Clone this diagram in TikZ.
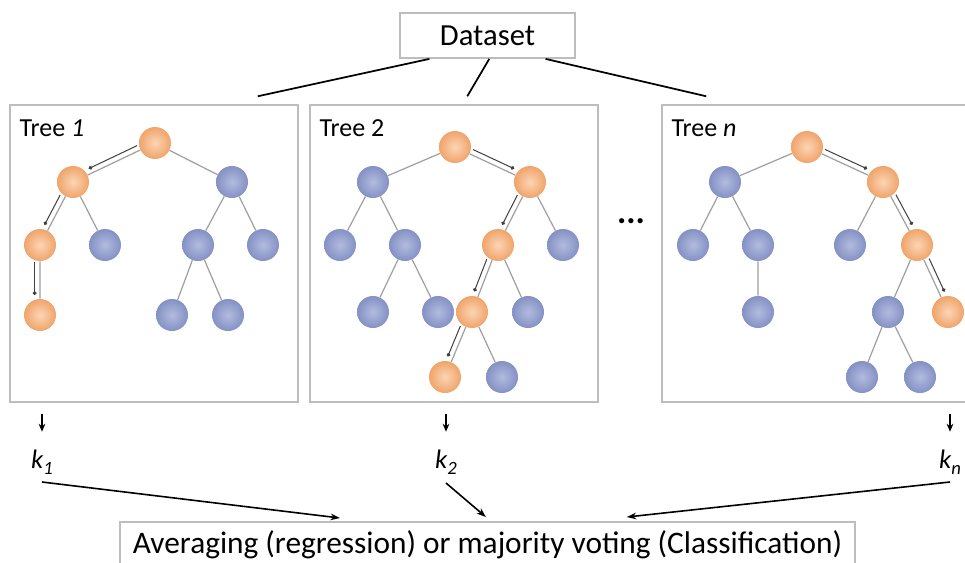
\documentclass[tikz,border=0pt]{standalone}
\usepackage{fontspec}
\setmainfont{Carlito}
\usepackage{tikz}
\usetikzlibrary{arrows.meta, calc, positioning}
\definecolor{nodeorange}{HTML}{F0A46A}
\definecolor{nodeorangelt}{HTML}{FBD5B5}
\definecolor{nodeblue}{HTML}{8391C4}
\definecolor{nodebluelt}{HTML}{B3BBDE}
\definecolor{boxgray}{HTML}{BDBDBD}
\def\kout#1{\textit{k}\raisebox{-5pt}{\fontsize{14}{14}\selectfont\textit{#1}}}
\newcommand{\walk}[4]{\draw[walkline] ($(#1)!4pt!#3:(#2)$) -- ($(#2)!4pt!#4:(#1)$);}
\tikzset{
    leafon/.style={circle, minimum size=24pt, inner sep=0pt, shading=radial, inner color=nodeorangelt, outer color=nodeorange},
    leafoff/.style={circle, minimum size=24pt, inner sep=0pt, shading=radial, inner color=nodebluelt, outer color=nodeblue},
    branch/.style={draw=gray!75, line width=0.9pt},
    walkline/.style={draw=black!75, line width=0.75pt, shorten <=13pt, shorten >=15pt, -{Circle[length=2.8pt]}},
    treebox/.style={draw=boxgray, line width=1.1pt, inner sep=0pt, minimum height=222.75pt},
    treetitle/.style={anchor=base west, font=\fontsize{19.5}{20}\selectfont, inner sep=0pt},
    klabel/.style={anchor=base, font=\fontsize{20}{20}\selectfont, inner sep=0pt},
    feed/.style={line width=1.3pt},
    drop/.style={line width=1pt, -{Stealth[length=6pt, width=5pt]}},
    vote/.style={line width=1.2pt, -{Stealth[length=7pt, width=5pt]}},
}

\begin{document}
\begin{tikzpicture}[x=0.75pt, y=-0.75pt]
    \fill[white] (0,0) rectangle (965,562);
    \useasboundingbox (0,0) rectangle (965,562);

    % dataset and the three tree frames
    \node[draw=boxgray, line width=1.1pt, minimum width=131pt, minimum height=34pt, font=\fontsize{23}{24}\selectfont] (data) at (487.5,35.5) {Dataset};
    \node[treebox, minimum width=216pt] (box1) at (154,253.5) {};
    \node[treebox, minimum width=216pt] (box2) at (454,253.5) {};
    \node[treebox, minimum width=240pt] (box3) at (822,253.5) {};
    \node[treetitle] (ttl1) at ([xshift=7.5pt, yshift=-24pt]box1.north west) {Tree \textit{1}};
    \node[treetitle] (ttl2) at ([xshift=7.5pt, yshift=-24pt]box2.north west) {Tree 2};
    \node[treetitle] (ttl3) at ([xshift=7.5pt, yshift=-24pt]box3.north west) {Tree \textit{n}};
    \draw[feed] ($(data.south west)!.17!(data.south east)$) -- ($(box1.north east)+(-41,-8)$);
    \draw[feed] ($(data.south west)!.51!(data.south east)$) -- ($(box2.north west)+(158,-8)$);
    \draw[feed] ($(data.south west)!.83!(data.south east)$) -- ($(box3.north west)+(45,-8)$);

    % tree 1
    \node[leafon] (t1) at (155,143) {};
    \node[leafon] (t1l) at (73,182) {};
    \node[leafoff] (t1r) at (232,182) {};
    \node[leafon] (t1ll) at (40,245) {};
    \node[leafoff] (t1lr) at (105,245) {};
    \node[leafoff] (t1rl) at (198,245) {};
    \node[leafoff] (t1rr) at (263,245) {};
    \node[leafon] (t1lll) at (40,315) {};
    \node[leafoff] (t1rll) at (172,315) {};
    \node[leafoff] (t1rlr) at (228,315) {};
    \draw[branch] (t1) -- (t1l) (t1) -- (t1r) (t1l) -- (t1ll) (t1l) -- (t1lr) (t1r) -- (t1rl) (t1r) -- (t1rr)
        (t1ll) -- (t1lll) (t1rl) -- (t1rll) (t1rl) -- (t1rlr);
    \walk{t1}{t1l}{-90}{90}
    \walk{t1l}{t1ll}{-90}{90}
    \walk{t1ll}{t1lll}{-90}{90}

    % tree 2
    \node[leafon] (t2) at (455,147) {};
    \node[leafoff] (t2l) at (373,182) {};
    \node[leafon] (t2r) at (530,182) {};
    \node[leafoff] (t2ll) at (340,245) {};
    \node[leafoff] (t2lr) at (405,245) {};
    \node[leafon] (t2rl) at (498,245) {};
    \node[leafoff] (t2rr) at (563,245) {};
    \node[leafoff] (t2lrl) at (373,312) {};
    \node[leafoff] (t2lrr) at (438,312) {};
    \node[leafon] (t2rll) at (472,312) {};
    \node[leafoff] (t2rlr) at (528,312) {};
    \node[leafon] (t2rlll) at (445,377) {};
    \node[leafoff] (t2rllr) at (502,377) {};
    \draw[branch] (t2) -- (t2l) (t2) -- (t2r) (t2l) -- (t2ll) (t2l) -- (t2lr) (t2r) -- (t2rl) (t2r) -- (t2rr)
        (t2lr) -- (t2lrl) (t2lr) -- (t2lrr) (t2rl) -- (t2rll) (t2rl) -- (t2rlr) (t2rll) -- (t2rlll) (t2rll) -- (t2rllr);
    \walk{t2}{t2r}{90}{-90}
    \walk{t2r}{t2rl}{-90}{90}
    \walk{t2rl}{t2rll}{-90}{90}
    \walk{t2rll}{t2rlll}{-90}{90}

    \node[font=\bfseries\fontsize{26}{26}\selectfont] (dots) at (631,221) {...};

    % tree n
    \node[leafon] (tn) at (807,147) {};
    \node[leafoff] (tnl) at (725,182) {};
    \node[leafon] (tnr) at (883,182) {};
    \node[leafoff] (tnll) at (693,245) {};
    \node[leafoff] (tnlr) at (758,245) {};
    \node[leafoff] (tnrl) at (850,245) {};
    \node[leafon] (tnrr) at (917,245) {};
    \node[leafoff] (tnlrl) at (758,312) {};
    \node[leafoff] (tnrrl) at (888,312) {};
    \node[leafon] (tnrrr) at (948,312) {};
    \node[leafoff] (tnrrll) at (862,377) {};
    \node[leafoff] (tnrrlr) at (920,377) {};
    \draw[branch] (tn) -- (tnl) (tn) -- (tnr) (tnl) -- (tnll) (tnl) -- (tnlr) (tnr) -- (tnrl) (tnr) -- (tnrr)
        (tnlr) -- (tnlrl) (tnrr) -- (tnrrl) (tnrr) -- (tnrrr) (tnrrl) -- (tnrrll) (tnrrl) -- (tnrrlr);
    \walk{tn}{tnr}{90}{-90}
    \walk{tnr}{tnrr}{90}{-90}
    \walk{tnrr}{tnrrr}{90}{-90}

    % outputs and the vote
    \node[klabel] (k1) at (42,468) {\kout{1}};
    \node[klabel] (k2) at (446,468) {\kout{2}};
    \node[klabel] (kn) at (950,468) {\kout{n}};
    \draw[drop] (k1.base |- box1.south) ++(0,11) -- ++(0,18);
    \draw[drop] (k2.base |- box2.south) ++(0,11) -- ++(0,18);
    \draw[drop] (kn.base |- box3.south) ++(0,11) -- ++(0,18);
    \node[anchor=north, minimum width=551pt, inner ysep=3.25pt, text height=20pt, text depth=3pt,
        font=\fontsize{23.5}{24}\selectfont] (result) at (487.5,522)
        {Averaging (regression) or majority voting (Classification)};
    \draw[boxgray, line width=1.1pt] ($(result.south west)+(0,12)$) |- (result.north east) -- ($(result.south east)+(0,12)$);
    \draw[vote] ($(k1.base)+(0,14)$) -- ($(result.north west)+(220,-4)$);
    \draw[vote] ($(k2.base)+(0,15)$) -- ($(result.north west)+(366,-5)$);
    \draw[vote] ($(kn.base)+(0,14)$) -- ($(result.north west)+(507,-5)$);
\end{tikzpicture}
\end{document}
